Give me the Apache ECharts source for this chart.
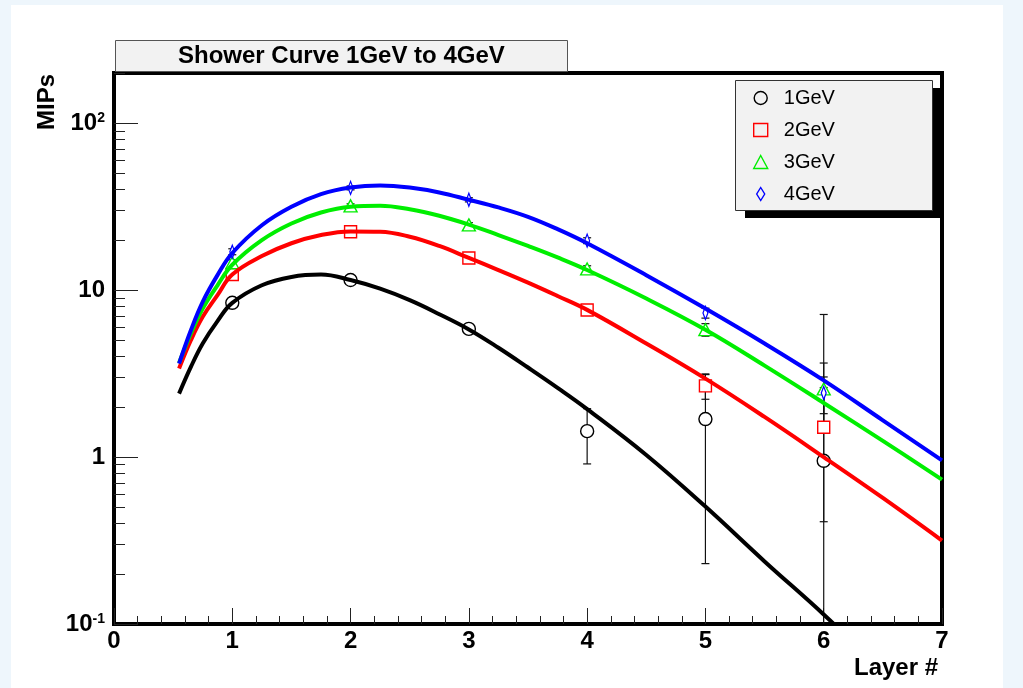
<!DOCTYPE html>
<html>
<head>
<meta charset="utf-8">
<script src="https://cdn.jsdelivr.net/npm/echarts@6/dist/echarts.min.js"></script>
<style>
  body { margin: 0; background: #eef6fc; }
  #main { position: absolute; left: 11px; top: 5px; width: 992px; height: 683px; background: #fff; }
</style>
</head>
<body>
<div id="main"></div>
<script>
// measured points per layer, with errors
const layers = [1, 2, 3, 4, 5, 6];
const mip1GeV = [8.4, 11.5, 5.86, 1.43, 1.69, 0.95];
const err1GeV = [0.35, 0.45, 0.3, 0.52, 1.46, 6.2];
const mip2GeV = [12.4, 22.4, 15.6, 7.6, 2.67, 1.51];
const err2GeV = [0.5, 0.7, 0.6, 0.45, 0.45, 1.1];
const mip3GeV = [14.6, 32, 24.6, 13.4, 5.8, 2.56];
const err3GeV = [0.6, 0.9, 0.8, 0.6, 0.5, 1.1];
const mip4GeV = [17, 41, 34.8, 19.8, 7.3, 2.42];
const err4GeV = [0.7, 1.1, 1.0, 0.8, 0.5, 0.6];

// fitted shower curves
const fitX = [0.55, 0.65, 0.75, 0.875, 1, 1.25, 1.5, 1.75, 2, 2.25, 2.5, 2.75, 3, 3.25, 3.5, 3.75, 4, 4.5, 5, 5.5, 6, 6.5, 7];
const fit1GeV = [2.40, 3.47, 4.79, 6.53, 8.39, 10.7, 12.0, 12.4, 11.5, 10.2, 8.71, 7.18, 5.82, 4.52, 3.44, 2.60, 1.94, 1.03, 0.505, 0.237, 0.114, 0.052, 0.024];
const fit2GeV = [3.39, 5.01, 6.92, 9.33, 12.4, 16.0, 19.1, 21.4, 22.5, 22.4, 20.9, 18.4, 15.6, 13.2, 11.1, 9.23, 7.62, 4.79, 2.95, 1.74, 1.00, 0.569, 0.316];
const fit3GeV = [3.66, 5.50, 7.76, 10.7, 14.2, 19.95, 25.1, 29.2, 31.6, 32.0, 30.5, 27.9, 24.7, 21.4, 18.4, 15.7, 13.2, 8.91, 5.79, 3.53, 2.11, 1.25, 0.733];
const fit4GeV = [3.63, 5.75, 8.51, 12.3, 16.7, 24.5, 31.6, 37.6, 41.2, 42.4, 41.2, 38.5, 34.8, 31.3, 27.5, 23.2, 19.1, 12.3, 7.76, 4.79, 2.88, 1.66, 0.955];

const energies = ['1GeV', '2GeV', '3GeV', '4GeV'];
const xTicks = [0, 1, 2, 3, 4, 5, 6, 7];
const yMajorTicks = [0.1, 1, 10, 100];
const yMinorTicks = [0.2, 0.3, 0.4, 0.5, 0.6, 0.7, 0.8, 0.9, 2, 3, 4, 5, 6, 7, 8, 9, 20, 30, 40, 50, 60, 70, 80, 90, 200];

const Y_MIN = 0.1;
const Y_MAX = 200;
const font = "'Liberation Sans', Arial, Helvetica, sans-serif";

const colors = ['#000000', '#ff0000', '#00ee00', '#0000ff'];
const symbols = ['circle', 'rect', 'triangle', 'path://M4,0L8,6.5L4,13L0,6.5Z'];
const symbolSizes = [13, 12, [13, 12], [8, 13]];
const mips = [mip1GeV, mip2GeV, mip3GeV, mip4GeV];
const errs = [err1GeV, err2GeV, err3GeV, err4GeV];
const fits = [fit1GeV, fit2GeV, fit3GeV, fit4GeV];

const chart = echarts.init(document.getElementById('main'));

function renderErrorBar(params, api) {
  const x = api.value(0), y = api.value(1), e = api.value(2);
  const low = y - e;
  const top = api.coord([x, y + e]);
  const bottom = api.coord([x, low > Y_MIN ? low : Y_MIN]);
  const style = { stroke: '#111', lineWidth: 1.2 };
  const kids = [
    { type: 'line', shape: { x1: top[0], y1: top[1], x2: bottom[0], y2: bottom[1] }, style },
    { type: 'line', shape: { x1: top[0] - 4, y1: top[1], x2: top[0] + 4, y2: top[1] }, style }
  ];
  if (low > Y_MIN) {
    kids.push({ type: 'line', shape: { x1: bottom[0] - 4, y1: bottom[1], x2: bottom[0] + 4, y2: bottom[1] }, style });
  }
  return { type: 'group', children: kids };
}

function yLabel(v) {
  if (Math.abs(v - 0.1) < 1e-9) return '{b|10}{s|-1}';
  if (Math.abs(v - 100) < 1e-9) return '{b|10}{s|2}';
  return '{b|' + v + '}';
}

const series = [];
energies.forEach((name, i) => {
  series.push({
    name: name + ' err',
    type: 'custom',
    z: 1,
    clip: true,
    renderItem: renderErrorBar,
    encode: { x: 0, y: 1 },
    data: layers.map((l, k) => [l, mips[i][k], errs[i][k]])
  });
});
energies.forEach((name, i) => {
  series.push({
    name: name,
    type: 'scatter',
    z: 2,
    symbol: symbols[i],
    symbolSize: symbolSizes[i],
    symbolKeepAspect: true,
    itemStyle: { color: '#fff', borderColor: colors[i], borderWidth: 1.4, opacity: 1 },
    data: layers.map((l, k) => [l, mips[i][k]])
  });
});
energies.forEach((name, i) => {
  series.push({
    name: name + ' fit',
    type: 'line',
    z: 3,
    smooth: 0.4,
    showSymbol: false,
    silent: true,
    lineStyle: { color: colors[i], width: 4 },
    itemStyle: { color: colors[i] },
    data: fitX.map((x, k) => [x, fits[i][k]])
  });
});

const option = {
  animation: false,
  textStyle: { fontFamily: font },
  title: {
    text: 'Shower Curve 1GeV to 4GeV',
    left: 104,
    top: 35,
    padding: [4, 63],
    backgroundColor: '#f2f2f2',
    borderColor: '#555',
    borderWidth: 1,
    textStyle: { fontFamily: font, fontSize: 24, fontWeight: 'bold', color: '#000', lineHeight: 24 }
  },
  legend: {
    data: energies,
    orient: 'vertical',
    left: 724,
    top: 75,
    z: 10,
    padding: [8, 97, 7, 18],
    itemWidth: 14,
    itemHeight: 13,
    itemGap: 12,
    formatter: name => '  ' + name,
    backgroundColor: 'transparent',
    borderWidth: 0,
    itemStyle: { color: 'transparent', borderWidth: 1.4 },
    textStyle: { fontFamily: font, fontSize: 20, color: '#000', lineHeight: 20 },
    selectedMode: false
  },
  grid: {
    left: 103,
    right: 61,
    top: 68,
    bottom: 64,
    outerBoundsMode: 'none',
    containLabel: false,
    show: true,
    backgroundColor: '#fff',
    borderColor: '#000',
    borderWidth: 4
  },
  xAxis: {
    type: 'value',
    min: 0,
    max: 7,
    interval: 1,
    name: 'Layer #',
    nameLocation: 'end',
    nameGap: -88,
    nameTextStyle: { fontFamily: font, fontSize: 24, fontWeight: 'bold', color: '#000', verticalAlign: 'top', padding: [32, 0, 0, 0] },
    axisLine: { show: false },
    splitLine: { show: false },
    axisTick: { show: true, inside: true, length: 16, lineStyle: { color: '#222', width: 1 } },
    minorTick: { show: true, splitNumber: 5, length: 8, lineStyle: { color: '#222', width: 1 } },
    axisLabel: {
      customValues: xTicks,
      margin: 5,
      fontFamily: font, fontSize: 24, fontWeight: 'bold', color: '#000'
    }
  },
  yAxis: [{
    type: 'log',
    logBase: 10,
    min: Y_MIN,
    max: Y_MAX,
    axisLine: { show: false },
    splitLine: { show: false },
    axisTick: { show: true, inside: true, length: 24, customValues: yMajorTicks, lineStyle: { color: '#222', width: 1 } },
    axisLabel: {
      customValues: yMajorTicks,
      margin: 9,
      formatter: yLabel,
      rich: {
        b: { fontFamily: font, fontSize: 24, fontWeight: 'bold', color: '#000', lineHeight: 24 },
        s: { fontFamily: font, fontSize: 14, fontWeight: 'bold', color: '#000', lineHeight: 14, verticalAlign: 'top' }
      }
    }
  }, {
    type: 'log',
    logBase: 10,
    min: Y_MIN,
    max: Y_MAX,
    position: 'left',
    axisLine: { show: false },
    splitLine: { show: false },
    axisLabel: { show: false },
    axisTick: { show: true, inside: true, length: 11, customValues: yMinorTicks, lineStyle: { color: '#222', width: 1 } }
  }],
  graphic: [{
    type: 'text',
    x: 36,
    y: 69,
    rotation: Math.PI / 2,
    style: { text: 'MIPs', font: 'bold 24px ' + font, fill: '#000', textAlign: 'right', textVerticalAlign: 'middle' }
  }, {
    // legend box shadow
    type: 'rect',
    z: 8,
    shape: { x: 734, y: 83, width: 196, height: 130 },
    style: { fill: '#000' }
  }, {
    // legend box
    type: 'rect',
    z: 9,
    shape: { x: 724.5, y: 75.5, width: 197, height: 130 },
    style: { fill: '#f2f2f2', stroke: '#333', lineWidth: 1 }
  }],
  series: series
};

chart.setOption(option);
</script>
</body>
</html>
